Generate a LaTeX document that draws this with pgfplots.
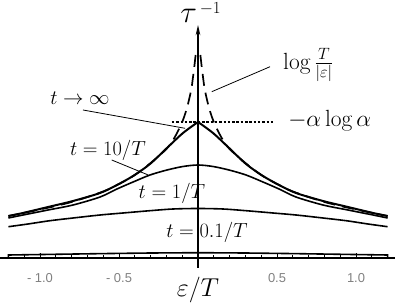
\RequirePackage{fix-cm}
\documentclass[border=0pt]{standalone}
\usepackage{fontspec}
\newfontfamily\tickfont{Liberation Sans}
\usepackage{pgfplots}
\pgfplotsset{compat=1.18}
\usetikzlibrary{arrows.meta}
\begin{document}
\begin{tikzpicture}
\begin{axis}[
 scale only axis, width=395bp, height=307bp,
 xmin=-1.2532, xmax=1.2468, ymin=-49, ymax=258,
 axis x line=middle, axis y line=none,
 x axis line style={-, line width=1.8bp},
 xtick={-1,-0.5,0.5,1}, xticklabels={- 1.0,- 0.5,0.5,1.0},
 minor xtick={-1.1,-0.9,-0.8,-0.7,-0.6,-0.4,-0.3,-0.2,-0.1,0.1,0.2,0.3,0.4,0.6,0.7,0.8,0.9,1.1},
 tick align=inside,
 major tick length=4.5bp, minor tick length=3bp,
 tick style={black, line width=1bp},
 xticklabel style={font=\tickfont\fontsize{13}{14}\selectfont, text=black!50, anchor=base, yshift=-24.5bp},
 clip=false,
 every axis plot/.append style={black},
]
% y axis
\draw[line width=1.8bp, -{Stealth[length=10bp,width=4.5bp]}] (axis cs:0,-10) -- (axis cs:0,233);
% log T/|eps| (dashed)
\addplot[line width=1.7bp, dash pattern=on 12bp off 7bp, smooth] coordinates {
 (0.015,203) (0.02,196) (0.025,189) (0.03,183) (0.04,171) (0.05,163) (0.07,150) (0.1,136) (0.15,120) (0.2,109) (0.3,95) (0.4,83) (0.5,74) (0.6,66.5) (0.8,56) (1.0,48.5) (1.2,42)};
\addplot[line width=1.7bp, dash pattern=on 12bp off 7bp, smooth] coordinates {
 (-0.015,203) (-0.02,196) (-0.025,189) (-0.03,183) (-0.04,171) (-0.05,163) (-0.07,150) (-0.1,136) (-0.15,120) (-0.2,109) (-0.3,95) (-0.4,83) (-0.5,74) (-0.6,66.5) (-0.8,56) (-1.0,48.5) (-1.2,42)};
% t -> infinity
\addplot[line width=2bp, smooth] coordinates {
 (0,136) (0.095,125) (0.19,111) (0.304,94) (0.411,82) (0.513,73) (0.62,65) (0.791,57) (0.949,51) (1.108,45) (1.2,42)};
\addplot[line width=2bp, smooth] coordinates {
 (0,136) (-0.095,125) (-0.19,111) (-0.304,94) (-0.411,82) (-0.513,73) (-0.62,65) (-0.791,57) (-0.949,51) (-1.108,45) (-1.2,42)};
% t = 10/T
\addplot[line width=1.6bp, smooth] coordinates {
 (-1.2,40) (-1.108,43) (-0.949,48) (-0.791,53) (-0.62,61) (-0.513,69) (-0.411,76) (-0.304,83) (-0.196,88) (-0.095,91.5) (0,93)
 (0.095,91.5) (0.196,88) (0.304,83) (0.411,76) (0.513,69) (0.62,61) (0.791,53) (0.949,48) (1.108,43) (1.2,40)};
% t = 1/T
\addplot[line width=1.6bp, smooth] coordinates {
 (-1.2,31.3) (-1.076,34) (-0.937,37.3) (-0.791,40) (-0.62,43) (-0.475,45) (-0.304,47.3) (-0.158,49) (0,49.5)
 (0.158,49) (0.304,47.3) (0.475,45) (0.62,43) (0.791,40) (0.937,37.3) (1.076,34) (1.2,31.3)};
% t = 0.1/T
\addplot[line width=1.6bp] coordinates {
 (-1.2,0) (-1.2,3) (-0.9,3.7) (-0.6,4.4) (-0.3,5.0) (0,5.3) (0.3,5.0) (0.6,4.4) (0.9,3.7) (1.2,3) (1.2,0)};
% -alpha log alpha level
\addplot[line width=2bp, dash pattern=on 2.5bp off 1.8bp] coordinates {(-0.165,136) (0.487,136)};
% leader lines
\draw[line width=0.8bp] (axis cs:0.456,191.3) -- (axis cs:0.087,166.3);
\draw[line width=0.8bp] (axis cs:-0.728,148) -- (axis cs:-0.082,129.7);
\draw[line width=0.8bp] (axis cs:-0.546,98) -- (axis cs:-0.315,83);
% labels
\begin{scope}[every node/.style={font=\fontsize{20.5}{24}\selectfont, inner sep=0pt}]
\node[anchor=west, font=\fontsize{23.5}{27}\selectfont] at (axis cs:0.538,193) {$\log\frac{T}{|\varepsilon|}$};
\node[anchor=west, font=\fontsize{23.5}{27}\selectfont] at (axis cs:0.57,137) {$-\alpha\log\alpha$};
\node at (axis cs:-0.747,160) {$t\to\infty$};
\node at (axis cs:-0.57,108) {$t=10/T$};
\node at (axis cs:-0.165,65) {$t=1/T$};
\node at (axis cs:0.057,26) {$t=0.1/T$};
\end{scope}
\node[font=\fontsize{31}{34}\selectfont, inner sep=0pt, anchor=base] at (axis cs:0.016,235) {$\tau$\raisebox{9.5bp}{\fontsize{17}{20}\selectfont$\,-1$}};
\node[font=\fontsize{26}{30}\selectfont, inner sep=0pt] at (axis cs:0,-32) {$\varepsilon/T$};
\end{axis}
\pgfresetboundingbox
\path (current axis.south west) rectangle (current axis.north east);
\end{tikzpicture}
\end{document}
